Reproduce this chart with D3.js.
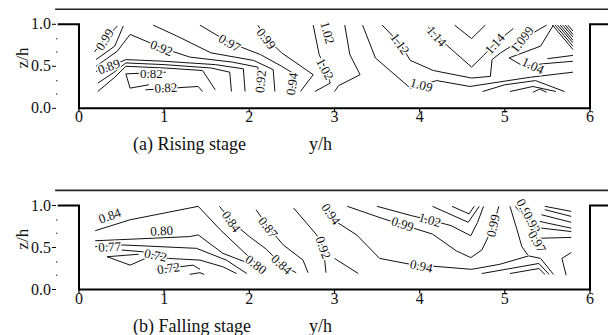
<!DOCTYPE html>
<html>
<head>
<meta charset="utf-8">
<script src="https://cdn.jsdelivr.net/npm/d3@7"></script>
<style>
  body { margin: 0; background: #fff; }
  svg { display: block; }
  text { font-family: "Liberation Serif", "Times New Roman", serif; fill: #111; }
  .clab { font-size: 13px; paint-order: stroke; stroke: #fff; stroke-width: 3px; }
</style>
</head>
<body>
<div id="chart"></div>
<script>
// axis stuff
var xTicks = [0, 1, 2, 3, 4, 5, 6];
var yTicks = [0, 0.5, 1.0];
var yTickLabels = ["0.0", "0.5", "1.0"];
var yMinor = [0.17, 0.33, 0.67, 0.83];

// (a) rising stage - contour polylines, [y/h, z/h]
var risingLines = [
  [[0.18,0.67],[0.3,0.82],[0.45,0.98]],
  [[0.2,0.58],[0.42,0.74],[0.52,0.98]],
  [[0.2,0.5],[0.45,0.68],[0.6,0.88],[0.97,0.72],[1.3,0.61],[1.8,0.55],[2.1,0.49],[2.13,0.2]],
  [[0.2,0.44],[0.3,0.47],[0.55,0.58],[1.0,0.56],[1.6,0.52],[1.93,0.47],[1.95,0.2]],
  [[0.22,0.3],[0.4,0.42],[0.55,0.54],[1.0,0.52],[1.55,0.48],[1.77,0.43],[1.79,0.2]],
  [[0.22,0.2],[0.42,0.37],[0.55,0.5],[1.0,0.48],[1.45,0.45],[1.6,0.22]],
  [[1.02,0.43],[0.55,0.41],[0.6,0.24],[0.82,0.28]],
  [[0.78,0.22],[1.4,0.26],[1.45,0.2]],
  [[0.87,0.99],[1.15,0.86],[1.55,0.66],[2.05,0.57],[2.28,0.46],[2.3,0.2]],
  [[1.42,0.99],[1.77,0.78],[2.13,0.64],[2.38,0.5],[2.51,0.42],[2.5,0.17]],
  [[2.1,0.99],[2.2,0.83],[2.38,0.66],[2.75,0.4],[2.6,0.2]],
  [[2.75,0.99],[2.82,0.64],[2.89,0.48],[2.95,0.3],[2.77,0.2]],
  [[3.12,0.99],[3.18,0.64],[3.3,0.4],[3.05,0.27],[3.0,0.2]],
  [[3.33,0.99],[3.48,0.6],[3.89,0.24],[4.2,0.33],[4.59,0.26],[5.3,0.37],[5.8,0.43]],
  [[3.56,0.99],[3.77,0.77],[3.89,0.57],[4.16,0.45],[4.61,0.36],[4.83,0.38],[4.85,0.58],[4.95,0.66],[5.2,0.82],[5.49,0.99]],
  [[4.1,0.97],[4.32,0.75],[4.61,0.49],[4.75,0.63],[4.88,0.77],[5.1,0.95]],
  [[4.41,0.99],[4.61,0.83],[4.77,0.99]],
  [[5.57,0.99],[5.42,0.74],[5.05,0.6],[5.22,0.5],[5.45,0.53],[5.8,0.56]],
  [[5.5,0.59],[5.8,0.63]],
  [[5.56,0.99],[5.8,0.7]],
  [[5.59,0.99],[5.8,0.74]],
  [[5.62,0.99],[5.8,0.78]],
  [[5.65,0.99],[5.8,0.81]],
  [[5.68,0.99],[5.8,0.85]],
  [[5.71,0.99],[5.8,0.88]],
  [[5.74,0.99],[5.8,0.92]],
  [[4.74,0.2],[5.0,0.28],[5.36,0.33],[5.7,0.2]],
  [[5.06,0.2],[5.33,0.26],[5.6,0.2]],
  [[5.33,0.19],[5.41,0.23],[5.49,0.19]]
];
// [text, y/h, z/h, angle]
var risingLabels = [
  ["0.99", 0.3, 0.82, -58],
  ["0.92", 0.97, 0.72, 22],
  ["0.89", 0.35, 0.5, -20],
  ["0.82", 0.85, 0.42, 0],
  ["0.82", 1.02, 0.245, -3],
  ["0.97", 1.77, 0.78, 30],
  ["0.92", 2.13, 0.32, -85],
  ["0.94", 2.5, 0.29, -82],
  ["0.99", 2.2, 0.83, 52],
  ["1.02", 2.92, 0.9, 75],
  ["1.02", 2.89, 0.47, 62],
  ["1.12", 3.77, 0.77, 55],
  ["1.09", 4.02, 0.28, 15],
  ["1.14", 4.2, 0.86, 48],
  ["1.14", 4.88, 0.77, -48],
  ["1.099", 5.2, 0.82, -52],
  ["1.04", 5.33, 0.51, 25]
];

// (b) falling stage
var fallingLines = [
  [[0.19,0.7],[0.6,0.83],[1.4,0.99],[1.66,0.71],[1.93,0.45],[2.18,0.22]],
  [[0.19,0.58],[1.3,0.63],[1.4,0.65],[1.69,0.43],[2.0,0.31],[2.05,0.27]],
  [[0.19,0.51],[0.52,0.53],[1.38,0.49],[1.73,0.35],[1.97,0.19]],
  [[0.5,0.47],[0.74,0.45],[1.05,0.37],[1.42,0.35],[1.69,0.27],[1.85,0.19]],
  [[0.7,0.42],[0.33,0.39],[0.6,0.29],[0.78,0.37]],
  [[0.9,0.24],[1.18,0.27],[1.34,0.29],[1.42,0.24]],
  [[1.3,0.18],[1.42,0.2],[1.47,0.18]],
  [[1.65,0.99],[1.79,0.81],[2.0,0.63],[2.2,0.48],[2.38,0.29],[2.55,0.2]],
  [[2.08,0.95],[2.22,0.74],[2.4,0.53],[2.63,0.35],[2.69,0.2]],
  [[2.52,0.97],[2.79,0.65],[2.87,0.5],[2.9,0.2]],
  [[2.9,0.99],[3.03,0.8],[3.26,0.65],[3.53,0.37],[3.89,0.3],[4.61,0.24],[4.94,0.3],[5.28,0.4],[5.42,0.37],[5.57,0.18]],
  [[3.0,0.37],[3.28,0.19]],
  [[3.15,0.99],[3.55,0.85],[3.8,0.77],[4.15,0.66],[4.43,0.46],[4.6,0.38],[4.73,0.47],[4.83,0.68],[4.87,0.78],[4.93,0.99]],
  [[3.5,0.99],[3.9,0.88],[4.15,0.82],[4.37,0.76],[4.6,0.64],[4.68,0.8],[4.75,0.99]],
  [[4.15,0.99],[4.57,0.8],[4.7,0.99]],
  [[4.38,0.99],[4.58,0.9],[4.64,0.99]],
  [[5.06,0.99],[5.14,0.72],[5.2,0.51],[5.27,0.41]],
  [[5.12,0.99],[5.25,0.85],[5.37,0.62],[5.45,0.48]],
  [[5.47,0.99],[5.78,0.93]],
  [[5.47,0.95],[5.78,0.87]],
  [[5.43,0.89],[5.78,0.8]],
  [[5.41,0.81],[5.78,0.73]],
  [[5.35,0.74],[5.78,0.69]],
  [[5.41,0.61],[5.78,0.62]],
  [[4.73,0.19],[5.4,0.31],[5.52,0.18]],
  [[5.06,0.19],[5.4,0.25],[5.47,0.18]],
  [[5.78,0.44],[5.67,0.37],[5.72,0.17]]
];
var fallingLabels = [
  ["0.84", 0.36, 0.88, -20],
  ["0.80", 0.97, 0.7, -3],
  ["0.77", 0.36, 0.51, -3],
  ["0.72", 0.9, 0.41, 12],
  ["0.72", 1.05, 0.255, -8],
  ["0.80", 2.08, 0.3, 38],
  ["0.84", 1.79, 0.81, 55],
  ["0.84", 2.38, 0.3, 42],
  ["0.87", 2.22, 0.74, 52],
  ["0.92", 2.87, 0.5, 70],
  ["0.94", 2.96, 0.9, 55],
  ["0.94", 4.02, 0.28, 12],
  ["0.99", 3.8, 0.78, 18],
  ["0.99", 4.86, 0.76, -78],
  ["1.02", 4.12, 0.83, 16],
  ["0.99", 5.24, 0.95, 62],
  ["0.92", 5.32, 0.8, 62],
  ["0.97", 5.38, 0.57, 60]
];

var W = 608, H = 335;
var svg = d3.select("#chart").append("svg").attr("width", W).attr("height", H);

var x = d3.scaleLinear().domain([0, 6]).range([79, 590]);

function drawPanel(top, lines, labels, title) {
  var y = d3.scaleLinear().domain([0, 1]).range([top + 84, top]);
  var g = svg.append("g");

  // water surface / frame line on top
  g.append("line")
    .attr("x1", x(-0.28)).attr("x2", W)
    .attr("y1", y(1.18)).attr("y2", y(1.18))
    .attr("stroke", "#222").attr("stroke-width", 1.6);

  // channel outline
  var channel = [[-0.25, 1], [0, 1], [0, 0], [6, 0], [6, 1], [6.3, 1]];
  g.append("path")
    .attr("d", d3.line().x(function(d) { return x(d[0]); }).y(function(d) { return y(d[1]); })(channel))
    .attr("fill", "none").attr("stroke", "#000").attr("stroke-width", 2);

  // y ticks
  g.selectAll(".yt").data(yTicks).enter().append("line")
    .attr("x1", 52).attr("x2", 56)
    .attr("y1", function(d) { return y(d); }).attr("y2", function(d) { return y(d); })
    .attr("stroke", "#000").attr("stroke-width", 1);
  g.selectAll(".ytl").data(yTicks).enter().append("text")
    .attr("x", 51).attr("y", function(d) { return y(d) + 5; })
    .attr("text-anchor", "end").attr("font-size", 16)
    .text(function(d, i) { return yTickLabels[i]; });
  g.selectAll(".ym").data(yMinor).enter().append("rect")
    .attr("x", 56).attr("y", function(d) { return y(d) - 0.6; })
    .attr("width", 1.4).attr("height", 1.4).attr("fill", "#555");

  // x ticks
  g.selectAll(".xt").data(xTicks).enter().append("line")
    .attr("x1", function(d) { return x(d); }).attr("x2", function(d) { return x(d); })
    .attr("y1", y(0)).attr("y2", y(0) + 4)
    .attr("stroke", "#000").attr("stroke-width", 1.2);
  g.selectAll(".xtl").data(xTicks).enter().append("text")
    .attr("x", function(d) { return x(d); }).attr("y", y(0) + 14)
    .attr("text-anchor", "middle").attr("font-size", 16)
    .text(function(d) { return d; });

  g.append("text")
    .attr("transform", "translate(28," + y(0.6) + ") rotate(-90)")
    .attr("text-anchor", "middle").attr("font-size", 17)
    .text("z/h");
  g.append("text").attr("x", 133).attr("y", y(0) + 42).attr("font-size", 18).text(title);
  g.append("text").attr("x", 309).attr("y", y(0) + 42).attr("font-size", 18).text("y/h");

  // contour lines
  var line = d3.line().x(function(d) { return x(d[0]); }).y(function(d) { return y(d[1]); });
  g.selectAll(".cl").data(lines).enter().append("path")
    .attr("d", line)
    .attr("fill", "none").attr("stroke", "#111").attr("stroke-width", 1);

  g.selectAll(".clab").data(labels).enter().append("text")
    .attr("class", "clab")
    .attr("text-anchor", "middle")
    .attr("transform", function(d) { return "translate(" + x(d[1]) + "," + y(d[2]) + ") rotate(" + d[3] + ")"; })
    .attr("dy", "0.35em")
    .text(function(d) { return d[0]; });
}

drawPanel(24.3, risingLines, risingLabels, "(a) Rising stage");
drawPanel(205.5, fallingLines, fallingLabels, "(b) Falling stage");
</script>
</body>
</html>
